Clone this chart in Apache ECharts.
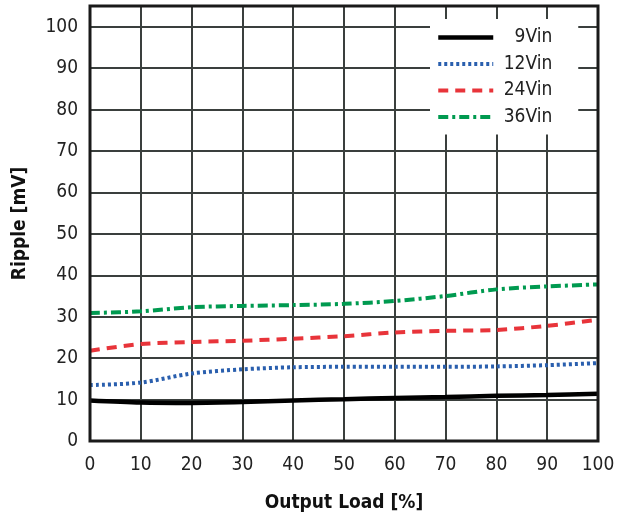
<!DOCTYPE html>
<html><head><meta charset="utf-8">
<script src="https://cdn.jsdelivr.net/npm/echarts@6/dist/echarts.min.js"></script>
<style>html,body{margin:0;padding:0;background:#fff}#c{width:624px;height:519px}</style>
</head><body><div id="c"></div>
<script>
const loads = [0,10,20,30,40,50,60,70,80,90,100];
const vin9  = [9.8,9.3,9.2,9.4,9.8,10.1,10.4,10.6,10.9,11.1,11.4];
const vin12 = [13.5,14.1,16.3,17.3,17.8,17.9,17.9,17.9,18.0,18.3,18.8];
const vin24 = [21.8,23.4,23.9,24.2,24.7,25.3,26.2,26.6,26.8,27.8,29.3];
const vin36 = [30.9,31.3,32.3,32.6,32.8,33.1,33.8,35.0,36.6,37.3,37.8];
const yTicks = [0,10,20,30,40,50,60,70,80,90,100];
const names = ['9Vin','12Vin','24Vin','36Vin'];
const colors = ['#000000','#2a5fae','#e8343a','#009a50'];
const types = ['solid',[3,3],[10,7],[10,4,3,4]];
const widths = [4.5,4,4,4];
const font = '"DejaVu Sans Condensed","Liberation Sans Narrow","Liberation Sans",sans-serif';
const pair = a => loads.map((x,i)=>[x,a[i]]);
const mk = (i, data) => ({
  name:names[i], type:'line', data: pair(data), symbol:'none', smooth:0.3,
  lineStyle:{color:colors[i], type:types[i], width:widths[i]}, itemStyle:{color:colors[i]}
});
const chart = echarts.init(document.getElementById('c'));
chart.setOption({
  animation:false,
  grid:{left:90,right:26,top:6,bottom:78,show:true,borderColor:'#1a1a1a',borderWidth:3,z:5},
  xAxis:{type:'value',min:0,max:100,interval:10,
    name:'Output Load [%]',nameLocation:'middle',nameGap:53,
    nameTextStyle:{fontFamily:font,fontSize:19,fontWeight:'bold',color:'#111'},
    axisLine:{show:false},axisTick:{show:false},
    axisLabel:{fontFamily:font,fontSize:19,color:'#222',margin:15},
    splitLine:{lineStyle:{color:'#3a3f3d',width:2}}},
  yAxis:{type:'value',min:0,max:105,interval:10,
    name:'Ripple [mV]',nameLocation:'middle',nameGap:60,
    nameTextStyle:{fontFamily:font,fontSize:19,fontWeight:'bold',color:'#111'},
    axisLine:{show:false},axisTick:{show:false},
    axisLabel:{fontFamily:font,fontSize:19,color:'#222',margin:12,
      formatter:v=> yTicks.includes(v)? String(v):''},
    splitLine:{lineStyle:{color:'#3a3f3d',width:2}}},
  legend:{orient:'vertical',left:430,top:19,itemWidth:55,itemHeight:10,itemGap:7.5,
    backgroundColor:'#fff',padding:[9,26,8,6],
    data:names.map((n,i)=>({name:n,itemStyle:{opacity:0},
      lineStyle:{color:colors[i],type:types[i],width:widths[i]}})),
    formatter:n=>'{a|'+n+'}',
    textStyle:{fontFamily:font,fontSize:19,color:'#222',
      rich:{a:{width:54,align:'right',fontFamily:font,fontSize:19,color:'#222'}}}},
  series:[mk(0,vin9),mk(1,vin12),mk(2,vin24),mk(3,vin36)]
});
</script></body></html>
